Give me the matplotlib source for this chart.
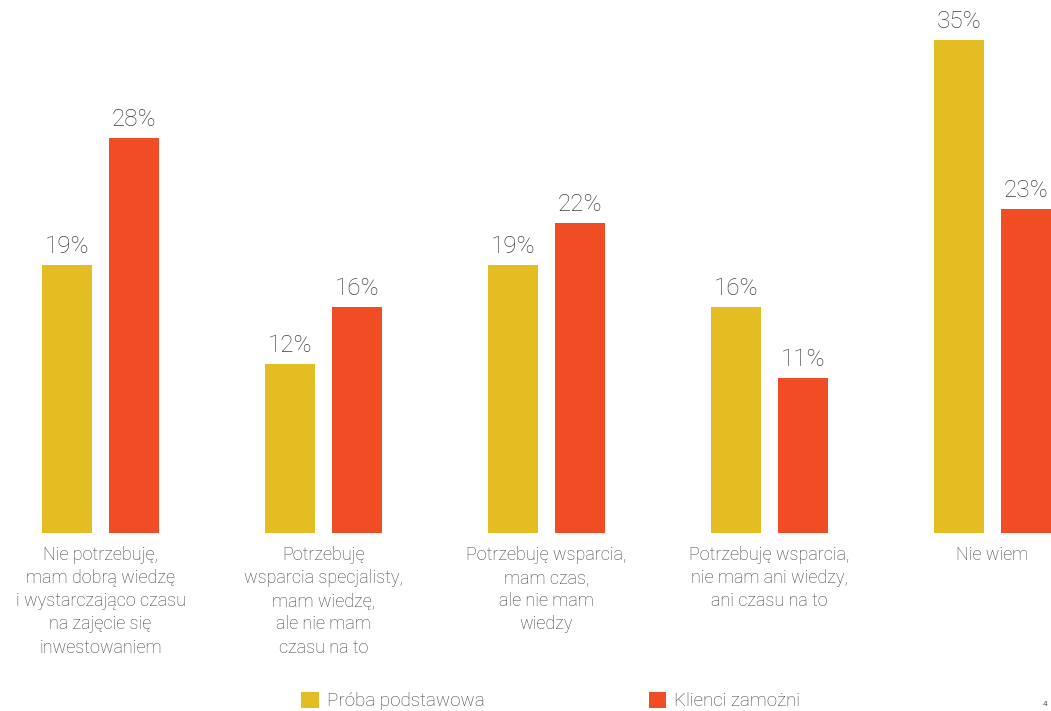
import matplotlib.pyplot as plt
import numpy as np

plt.rcParams['font.family'] = ['Roboto', 'DejaVu Sans']

categories = [
    'Nie potrzebuję,\nmam dobrą wiedzę\ni wystarczająco czasu\nna zajęcie się\ninwestowaniem',
    'Potrzebuję\nwsparcia specjalisty,\nmam wiedzę,\nale nie mam\nczasu na to',
    'Potrzebuję wsparcia,\nmam czas,\nale nie mam\nwiedzy',
    'Potrzebuję wsparcia,\nnie mam ani wiedzy,\nani czasu na to',
    'Nie wiem',
]
proba_podstawowa = [19, 12, 19, 16, 35]
klienci_zamozni = [28, 16, 22, 11, 23]
series_names = ['Próba podstawowa', 'Klienci zamożni']

yellow = '#E3BD22'
red = '#F04D24'
txt = '#404040'

fig = plt.figure(figsize=(10.51, 7.11), dpi=100)
ax = fig.add_axes([0, 178 / 711, 1, 533 / 711])

x = np.arange(len(categories))
w = 50 / 223
off = 33.5 / 223

b1 = ax.bar(x - off, proba_podstawowa, w, color=yellow, label=series_names[0])
b2 = ax.bar(x + off, klienci_zamozni, w, color=red, label=series_names[1])

# percentage labels above each bar
for bars, vals in ((b1, proba_podstawowa), (b2, klienci_zamozni)):
    for b, v in zip(bars, vals):
        ax.annotate(f'{v}%', (b.get_x() + b.get_width() / 2, v),
                    xytext=(0, 5), textcoords='offset points',
                    ha='center', va='bottom', fontsize=17.5,
                    fontweight='light', color=txt)

ax.set_xlim(-100.5 / 223, (1051 - 100.5) / 223)
ax.set_ylim(0, 533 / 14.1)

ax.set_xticks(x)
ax.set_xticklabels(categories, fontsize=13, fontweight='light', color=txt,
                   linespacing=1.38, va='top')
ax.tick_params(axis='x', length=0, pad=9)
ax.set_yticks([])
for s in ax.spines.values():
    s.set_visible(False)

leg = fig.legend(handles=[b1, b2], labels=series_names, loc='center left',
                 bbox_to_anchor=(301 / 1051, 1 - 701 / 711), ncol=2,
                 frameon=False, borderpad=0, borderaxespad=0,
                 handlelength=0.95, handleheight=0.95, handletextpad=0.42,
                 columnspacing=8.75, prop={'weight': 'light', 'size': 13.5})
for t in leg.get_texts():
    t.set_color(txt)

fig.text(1043 / 1051, 1 - 704 / 711, '4', fontsize=6, color='#606060',
         ha='left', va='center')

fig.savefig('out.png', dpi=100)
